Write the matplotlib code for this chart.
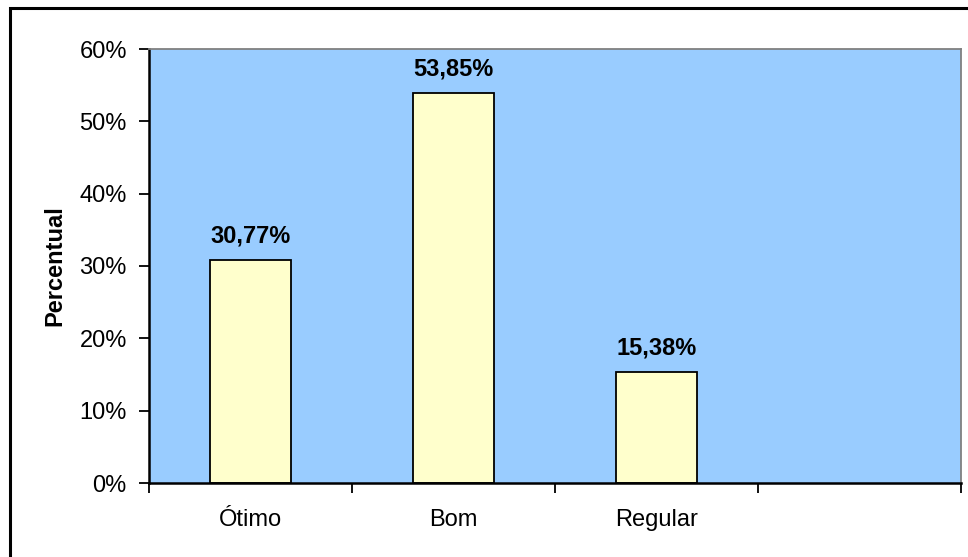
import matplotlib
matplotlib.use("Agg")
import matplotlib.pyplot as plt
from matplotlib.patches import Rectangle

# dados do gráfico
categorias = ["Ótimo", "Bom", "Regular", ""]
percentuais = [30.77, 53.85, 15.38]
rotulos = ["30,77%", "53,85%", "15,38%"]
yticks = [0, 10, 20, 30, 40, 50, 60]

plt.rcParams["font.family"] = ["Liberation Sans", "DejaVu Sans"]

W, H = 968, 557
fig = plt.figure(figsize=(W / 100, H / 100), dpi=100)
fig.patch.set_facecolor("white")

# moldura externa do gráfico
fig.patches.append(Rectangle((10 / W, -0.1), 1.2, (H - 8) / H + 0.1,
                             transform=fig.transFigure, fill=False,
                             edgecolor="black", linewidth=2.2, zorder=0))

ax = fig.add_axes([149 / W, (H - 483) / H, (961 - 149) / W, (483 - 49) / H])
ax.set_facecolor("#99CCFF")

x = list(range(len(percentuais)))
ax.bar(x, percentuais, width=0.395, color="#FFFFCC", edgecolor="black",
       linewidth=1.3, zorder=2)

for xi, v, txt in zip(x, percentuais, rotulos):
    ax.annotate(txt, (xi, v), xytext=(0, 9), textcoords="offset points",
                ha="center", va="bottom", fontsize=17, fontweight="bold")

ax.set_xlim(-0.5, len(categorias) - 0.5)
ax.set_ylim(0, 60)

ax.set_yticks(yticks)
ax.set_yticklabels([f"{t}%" for t in yticks], fontsize=17)
ax.tick_params(axis="y", direction="out", length=7, width=1.3, pad=9)

# marcas entre categorias, rótulos no centro de cada uma
ax.set_xticks([i - 0.5 for i in range(len(categorias) + 1)])
ax.set_xticklabels([])
ax.set_xticks(range(len(categorias)), minor=True)
ax.set_xticklabels(categorias, minor=True, fontsize=17)
ax.tick_params(axis="x", which="major", direction="out", length=7, width=1.3)
ax.tick_params(axis="x", which="minor", length=0, pad=19)

ax.set_ylabel("Percentual", fontsize=17, fontweight="bold")
ax.yaxis.set_label_coords(-83 / (961 - 149), 0.5)

for lado in ("left", "bottom"):
    ax.spines[lado].set_color("black")
    ax.spines[lado].set_linewidth(1.8)
for lado in ("top", "right"):
    ax.spines[lado].set_color("#808080")
    ax.spines[lado].set_linewidth(1.3)

fig.savefig("out.png", dpi=100)
